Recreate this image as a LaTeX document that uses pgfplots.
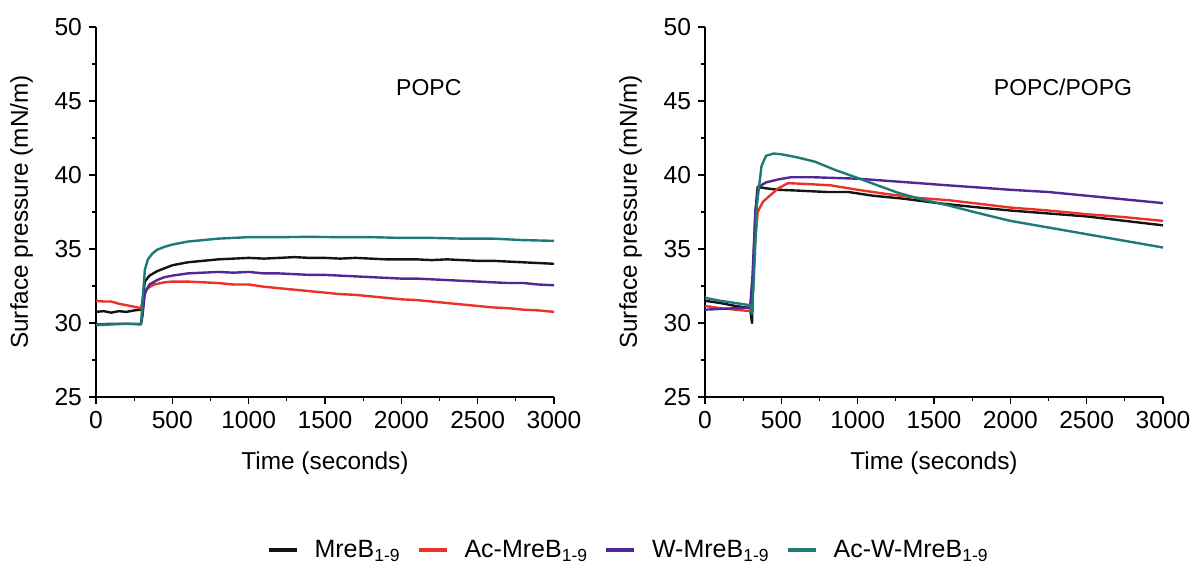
\documentclass[border=0pt]{standalone}
\usepackage{pgfplots}
\pgfplotsset{compat=1.18}
\usepackage{fontspec}
\setmainfont{Liberation Sans}
\definecolor{cblack}{RGB}{20,20,20}
\definecolor{cred}{RGB}{236,50,40}
\definecolor{cpurple}{RGB}{80,40,150}
\definecolor{cteal}{RGB}{30,122,116}
\pgfplotsset{
  myax/.style={
    scale only axis, width=229pt, height=185pt,
    anchor=south west,
    axis lines=left, axis line style={-, line width=0.6pt},
    xmin=0, xmax=3000, ymin=25, ymax=50,
    xtick={0,500,...,3000}, ytick={25,30,...,50},
    minor x tick num=1, minor y tick num=1,
    tick align=outside, major tick length=3.5pt, minor tick length=2pt,
    tick style={line width=0.6pt, black},
    every tick label/.style={font=\fontsize{12.3}{14}\selectfont},
    /pgf/number format/assume math mode=true,
    /pgf/number format/1000 sep={},
    xlabel={Time (seconds)}, ylabel={Surface pressure (mN/m)},
    label style={font=\fontsize{12.2}{14}\selectfont},
    xlabel style={yshift=-5pt}, ylabel style={yshift=4pt},
    clip=false,
    every axis plot/.append style={line width=1.2pt, line join=round},
  }
}
\begin{document}
\begin{tikzpicture}
\useasboundingbox (0,0) rectangle (596pt,286pt);
\begin{axis}[myax, at={(48pt,87.5pt)},
  legend columns=4,
  legend style={at={(1.165,-0.414)}, anchor=center, draw=none, fill=none,
    font=\fontsize{12.5}{14}\selectfont, column sep=6pt},
  legend image code/.code={\draw[#1, line width=2pt] (0pt,0pt) -- (14pt,0pt);},
]
\addplot[cblack] coordinates {(0,30.75)(50,30.8)(100,30.7)(150,30.8)(200,30.75)(250,30.85)(295,30.9)(305,31.5)(320,32.8)(350,33.2)(400,33.5)(450,33.7)(500,33.9)(600,34.1)(700,34.2)(800,34.3)(900,34.35)(1000,34.4)(1100,34.35)(1200,34.4)(1300,34.45)(1400,34.4)(1500,34.4)(1600,34.35)(1700,34.4)(1800,34.35)(1900,34.3)(2000,34.3)(2100,34.3)(2200,34.25)(2300,34.3)(2400,34.25)(2500,34.2)(2600,34.2)(2700,34.15)(2800,34.1)(2900,34.05)(3000,34.0)};
\addlegendentry{MreB\textsubscript{1-9}}
\addplot[cred] coordinates {(0,31.5)(50,31.45)(100,31.45)(150,31.3)(200,31.2)(250,31.1)(295,31.0)(310,31.6)(330,32.3)(380,32.6)(450,32.75)(500,32.8)(600,32.8)(700,32.75)(800,32.7)(900,32.6)(1000,32.6)(1100,32.45)(1200,32.35)(1300,32.25)(1400,32.15)(1500,32.05)(1600,31.95)(1700,31.9)(1800,31.8)(1900,31.7)(2000,31.6)(2100,31.55)(2200,31.45)(2300,31.35)(2400,31.25)(2500,31.15)(2600,31.05)(2700,31.0)(2800,30.9)(2900,30.85)(3000,30.75)};
\addlegendentry{Ac-MreB\textsubscript{1-9}}
\addplot[cpurple] coordinates {(0,29.9)(100,29.95)(200,29.95)(295,29.9)(305,30.5)(320,32.0)(350,32.6)(400,32.9)(450,33.1)(500,33.2)(600,33.35)(700,33.4)(800,33.45)(900,33.4)(1000,33.45)(1100,33.35)(1200,33.35)(1300,33.3)(1400,33.25)(1500,33.25)(1600,33.2)(1700,33.15)(1800,33.1)(1900,33.05)(2000,33.0)(2100,33.0)(2200,32.95)(2300,32.9)(2400,32.85)(2500,32.8)(2600,32.75)(2700,32.7)(2800,32.7)(2900,32.6)(3000,32.55)};
\addlegendentry{W-MreB\textsubscript{1-9}}
\addplot[cteal] coordinates {(0,29.85)(100,29.9)(200,29.95)(295,29.95)(305,31.5)(320,33.6)(340,34.3)(370,34.7)(400,34.95)(450,35.15)(500,35.3)(600,35.5)(700,35.6)(800,35.7)(900,35.75)(1000,35.8)(1200,35.8)(1400,35.82)(1600,35.8)(1800,35.8)(2000,35.75)(2200,35.75)(2400,35.7)(2600,35.7)(2800,35.6)(3000,35.55)};
\addlegendentry{Ac-W-MreB\textsubscript{1-9}}
\node[font=\fontsize{11.5}{13}\selectfont] at (axis cs:2180,45.9) {POPC};
\end{axis}
\begin{axis}[myax, at={(352.5pt,87.5pt)}]
\addplot[cblack] coordinates {(0,31.5)(100,31.35)(200,31.15)(295,31.0)(308,30.0)(315,33)(330,37.5)(345,39.2)(400,39.1)(480,39.0)(600,38.95)(800,38.85)(940,38.85)(1100,38.6)(1300,38.4)(1526,38.1)(1750,37.85)(2000,37.6)(2250,37.4)(2500,37.2)(2750,36.9)(3000,36.6)};
\addplot[cred] coordinates {(0,31.15)(100,31.0)(200,30.9)(295,30.8)(310,31.5)(325,35)(345,37.5)(380,38.2)(413,38.5)(480,39.1)(544,39.45)(650,39.4)(825,39.3)(1000,39.0)(1200,38.7)(1400,38.45)(1592,38.3)(1800,38.05)(2000,37.8)(2250,37.6)(2500,37.35)(2750,37.15)(3000,36.9)};
\addplot[cpurple] coordinates {(0,30.9)(100,30.95)(200,31.0)(295,31.05)(310,33)(330,37.5)(350,39.2)(400,39.5)(480,39.7)(563,39.85)(700,39.85)(850,39.8)(1000,39.75)(1200,39.6)(1400,39.45)(1592,39.3)(1800,39.15)(2000,39.0)(2250,38.85)(2500,38.6)(2750,38.35)(3000,38.1)};
\addplot[cteal] coordinates {(0,31.7)(100,31.5)(200,31.35)(295,31.2)(308,30.6)(320,33)(340,38)(370,40.6)(400,41.3)(450,41.45)(500,41.4)(600,41.2)(720,40.9)(850,40.35)(1000,39.8)(1130,39.3)(1264,38.8)(1420,38.35)(1592,37.95)(1800,37.4)(2000,36.9)(2250,36.45)(2500,36.0)(2750,35.55)(3000,35.1)};
\node[font=\fontsize{11.5}{13}\selectfont] at (axis cs:2345,45.9) {POPC/POPG};
\end{axis}
\end{tikzpicture}
\end{document}
